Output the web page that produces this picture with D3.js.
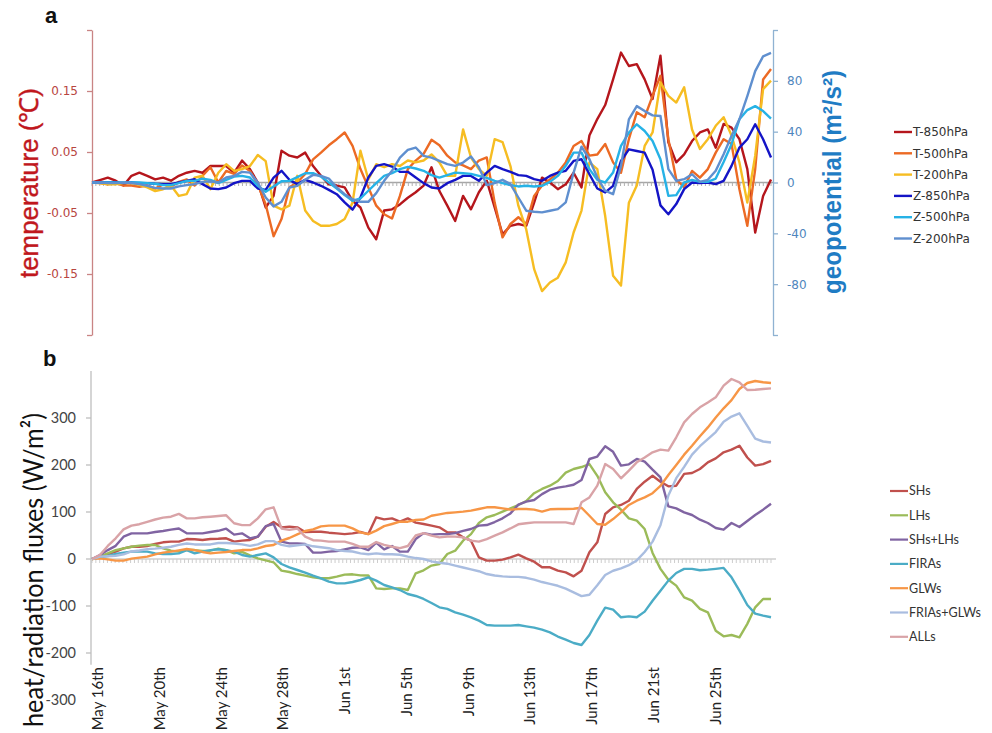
<!DOCTYPE html>
<html>
<head>
<meta charset="utf-8">
<script src="https://cdn.jsdelivr.net/npm/d3@7"></script>
<style>
  html, body { margin: 0; padding: 0; background: #fff; }
  svg { display: block; }
</style>
</head>
<body>
<svg id="chart" width="992" height="733"></svg>
<script>
// ---------------- data ----------------
// Samples are evenly spaced over the period May 16th 00:00 – Jun 29th 00:00.
const periodDays = 44;

const dateLabels = ["May 16th", "May 20th", "May 24th", "May 28th", "Jun 1st", "Jun 5th",
                    "Jun 9th", "Jun 13th", "Jun 17th", "Jun 21st", "Jun 25th"];
const dateLabelDays = [0, 4, 8, 12, 16, 20, 24, 28, 32, 36, 40];

const tempTicks = [-0.25, -0.15, -0.05, 0.05, 0.15, 0.25];
const geoTicks = [-120, -80, -40, 0, 40, 80, 120];
const fluxTicks = [-300, -200, -100, 0, 100, 200, 300];

// panel a: temperature anomalies (°C)
const t850 = [0,0.004,0.008,0.003,-0.005,0.011,0.016,0.011,0.005,0.008,
  0.003,0.011,0.016,0.019,0.016,0.027,0.027,0.027,0.016,0.036,
  0.022,0,-0.041,-0.022,0.052,0.044,0.041,0.049,0.027,0.011,
  -0.003,-0.005,-0.008,-0.030,-0.041,-0.074,-0.093,-0.046,-0.044,-0.036,
  -0.025,-0.016,-0.005,0.025,-0.014,-0.038,-0.063,-0.022,-0.044,-0.016,
  0.003,-0.041,-0.085,-0.071,-0.068,-0.071,-0.033,0.008,0,-0.011,
  -0.003,0.016,-0.008,0.077,0.104,0.127,0.169,0.213,0.191,0.194,
  0.169,0.137,0.208,0.066,0.033,0.046,0.068,0.082,0.087,0.057,
  0.096,0.090,0.071,0.022,-0.082,-0.022,0.005];
const t500 = [0,-0.001,-0.003,-0.001,-0.005,-0.005,-0.007,-0.005,-0.010,-0.003,
  -0.007,0.001,0.005,-0.005,0.011,0.025,0,0.019,0.014,0.028,
  0.019,-0.003,-0.036,-0.088,-0.060,-0.008,0,0.014,0.038,0.049,
  0.061,0.071,0.082,0.060,0.022,-0.008,-0.038,-0.052,-0.059,-0.022,
  0.022,0.036,0.047,0.070,0.061,0.044,0.033,0.028,0.022,0.036,
  0.041,-0.033,-0.090,-0.068,-0.057,-0.068,-0.022,-0.005,0.005,0.016,
  0.033,0.060,0.068,0.044,0.046,0.063,0.033,0.016,0.071,0.115,
  0.107,0.142,0.175,0.071,0.005,-0.008,0.019,0.008,0.022,0.049,
  0.071,0.063,-0.011,-0.071,0.022,0.169,0.186];
const t200 = [0,-0.001,-0.003,-0.003,-0.001,-0.001,-0.004,-0.008,-0.014,-0.011,
  -0.005,-0.022,-0.019,0.008,0.011,-0.011,0.016,0.030,0.019,0.022,
  0.027,0.045,0.035,-0.038,-0.044,-0.038,0.011,-0.046,-0.063,-0.071,
  -0.071,-0.068,-0.060,-0.033,0.052,0.005,0.030,0.025,0.030,0.027,
  0.036,0.033,0.036,0.046,0.033,0.011,0.011,0.087,0.041,0.022,
  0.011,0.071,0.066,0.027,-0.038,-0.077,-0.142,-0.178,-0.164,-0.156,
  -0.131,-0.082,-0.046,0.033,0.022,-0.055,-0.153,-0.169,-0.033,-0.005,
  0.060,0.082,0.164,0.142,0.131,0.156,0.087,0.055,0.071,0.093,
  0.107,0.077,0.033,-0.033,0.044,0.153,0.167];

// panel a: geopotential anomalies (m²/s²)
const z850 = [0,0,0,0,-0.5,0,-0.5,-0.5,-1,-1.3,
  -1.3,0,1.3,2.6,-1.3,-4.7,-5.2,-3.9,-0.5,1.3,
  1.3,-4.7,-5.8,3.9,9.2,2.1,-1.3,2.1,0,-2.6,
  -5.8,-9.2,-15.7,-21.4,-11.8,3.9,13.1,14.4,12.5,8.4,
  8.4,3.9,-0.5,-3.9,-4.7,-0.5,2.1,5.2,5.2,1.3,
  7.8,13.1,10.5,8.4,5.8,5.2,2.6,1.3,5.2,7.8,
  9.2,17,18.3,6.5,-4.7,-7.8,-2.6,17,26.1,24.8,
  23.5,10,-18,-25,-17,-5.2,0,-0.5,0,-1.3,
  1.3,13.1,27.5,34,45.8,34,19.6];
const z500 = [0,0,0,0,0,0,0,-0.5,-1,-2.1,
  -2.1,-0.5,1.3,1.3,3.1,2.1,-0.5,2.1,4.7,5.2,
  3.9,-2.6,-7.3,-3.1,1,1.3,4.2,7.3,7.3,4.7,
  0,-4.7,-9.9,-14.4,-12.5,-6.5,-0.5,5.2,7.3,10.5,
  12.3,11,9.2,5.8,3.9,5.8,7.8,7.3,6.8,5.2,
  3.7,1.3,-0.5,-2.1,-3.1,-2.6,-3.1,-2.6,0.5,5.2,
  13.1,23.5,23.5,10.5,2.1,0,7.8,28.8,39.2,45.8,
  40.5,32.7,18.3,-10.5,-9.9,0,2.1,0.5,0.5,3.1,
  16.2,30.1,49.7,57,60.1,56.2,50.2];
const z200 = [0,0,-0.5,-0.5,0,-0.5,-1.3,-2.6,-4.2,-4.7,
  -4.7,-3.1,-2.1,-1.3,0.5,1,0,3.9,5.2,8.4,
  7.8,0,-11.8,-18.8,-15.2,-3.9,-2.6,2.1,6,5.2,
  3.1,-3.9,-9.2,-13.1,-15.2,-15.2,-8.4,1.3,9.2,19.6,
  25.6,27.5,20.9,19.6,17,14.4,13.1,15.7,20.4,12,
  -2,-0.5,2.1,-1.3,-11.8,-22.2,-23,-23.5,-22.2,-20.9,
  -15.7,7.8,28.2,18.3,3.9,-6.5,-9.2,13.1,49.7,60.1,
  56.2,52.8,52.3,10.5,1.3,2.6,6.5,0.5,2.1,9.2,
  22.2,36.6,49.7,68,87.6,99.3,102];

// panel b: accumulated heat / radiation fluxes (W/m²)
const shs = [0,5,10,15.6,22.7,26,26,27.7,32,35.5,
  37,37,42.5,42,40.4,42.5,43,44,37,39,
  40.4,47.5,68.8,78.7,67.4,68.8,67.4,57.4,58,58,
  56,54.6,53,54.6,57.4,53,88.7,84.4,86.5,79.4,
  86.5,77.3,74.5,71,67.4,56.7,56.7,46,39,3.5,
  -3.5,-3.5,-1.4,3.5,9.2,1.4,-5.7,-17.7,-17.7,-24.8,
  -28.4,-36.9,-25,14.2,35.5,95.7,110,115,124,149,
  164.5,177,164.5,154.6,156,181,183,191.5,205.7,214,
  227,232.6,241,216,198.6,202,209];
const lhs = [0,5,12,19,22.7,26,28.4,29.8,29.8,22.7,
  17.7,15.6,19,19,17,17.7,22,19,12,15,
  7.8,1.4,-2.8,-7,-24.8,-27.7,-32,-35.5,-39,-41,
  -41,-37.6,-33.3,-32.6,-34.8,-35,-62.4,-63.8,-62.4,-62.4,
  -66,-30.5,-24,-14,-10.6,10.6,17.7,39,53,76.6,
  88.7,93.6,100.7,107.8,114.9,123.4,140,149,156,166,
  183.7,191.5,195.7,202,177,141.8,120.6,105,86.5,81.6,
  63.8,12.8,-21,-44,-56.7,-81.6,-88.7,-106,-113.5,-152.5,
  -164.5,-161.7,-166.7,-138,-102.8,-85,-85];
const shsLhs = [0,8.5,19,28,47.5,54.6,54.6,54.6,57.4,59.6,
  62.4,65,54.6,54.6,54.6,57.4,60,64.5,51.8,54.6,
  44,47.5,70,74.5,36.9,33.3,33.3,32,13.5,13.5,
  15.6,17,20.6,24,24.8,19,34.8,20.6,27.7,15.6,
  15.6,42.5,55,51.8,53,53,55,60,63.8,71,
  72.3,78.7,86.5,97,115.6,122,125.5,138,147.5,151.8,
  154.6,158,168,212.8,218,239.7,228,198.6,201.4,212.8,
  207,190,173.8,112,107.8,99.3,93.6,83.7,76.6,66,
  62.4,76.6,68,80.9,93.6,105,117.7];
const firas = [0,3.5,6.4,10.6,13.5,15.6,15.6,15.6,12,10.6,
  10.6,12,19,12,15.6,19,20.6,19,15.6,8.5,
  5,8.5,12,3.5,-10.6,-17.7,-23.4,-29,-35.5,-41,
  -48,-51.8,-51.8,-49,-44.7,-39,-46,-55.3,-60.3,-66,
  -74.5,-78.7,-85,-93.6,-102.8,-106,-113.5,-118.4,-124,-131.2,
  -140.4,-141.8,-141.8,-141.8,-140.4,-143.3,-146,-150.4,-156,-165,
  -171.6,-178.7,-183,-161.7,-131.2,-103.5,-107.8,-124,-122,-124,
  -112,-88.7,-67.4,-46,-29.8,-21,-21,-24,-22.7,-21,
  -19,-39,-67.4,-97.9,-116.3,-120.6,-124];
const glws = [0,1.4,-0.7,-3.5,-3.5,0.7,2.8,5,10,13.5,
  15.6,18.4,21.3,19,15,12,13.5,15,17,19,
  19,22.7,27.7,29.8,39,44.7,52.5,59.6,63,69.5,
  71,71,71,65,56.7,53,60.3,70,74.5,79.4,
  79.4,83,84,92,95,98,99.3,100.7,103,106.4,
  110,110,107.8,105,106.4,106.4,105,100.7,105.7,106.4,
  106.4,107,109,92,74.5,73,85,99.3,115,124,
  131,140,155.6,178.7,200,222,241,261,280,301,
  320.6,338,361.7,374.5,378.7,376,374.5];
const friasGlws = [0,5,6,7,10,16,18,21,22,24,
  26,30,33,31,31,31,34,34,33,31,
  28,31,38,38,30,27,29,31,27,25,
  23,19,17,16,12,10,12,10,10,9,
  5,2,0,-5,-8,-10,-14,-18,-22,-26,
  -32,-35,-37,-38,-38,-40,-44,-49,-53,-57,
  -63,-71,-79,-76,-56,-34,-25,-20,-13,-3,
  15,37,72,135,172,196,222,240,255,270,
  292,303,310,283,256,250,248];
const alls = [0,8.5,27.7,44,63,71,74,79,84,88,
  90,96,86.5,86.5,88.7,90,91.5,93,76,72,
  72,86.5,105.7,110,65,62,65,47.5,40,39,
  37,37,37,32,26,26,36,30,26,23,
  27.7,50,55,49.6,46,48,47.5,46,39,37,
  42.5,49.6,56.7,65,73.8,76,78,78,78,78,
  78,74.5,120.6,131,156,202,191.5,171.6,188,205.7,
  216,227,232.6,230.5,259,290.8,308.5,322.7,333,344,
  368.8,383,376,359.6,360,361.7,363];

const tempNames = ["T-850hPa", "T-500hPa", "T-200hPa"];
const geoNames = ["Z-850hPa", "Z-500hPa", "Z-200hPa"];
const fluxNames = ["SHs", "LHs", "SHs+LHs", "FIRAs", "GLWs", "FRIAs+GLWs", "ALLs"];

// ---------------- styles ----------------
const tempColors = ["#b5161c", "#ec6a24", "#f6bd22"];
const geoColors = ["#1414c6", "#26b2e6", "#5f8fcf"];
const fluxColors = ["#c0504d", "#9bbb59", "#8064a2", "#4bacc6", "#f79646", "#a9bde0", "#d9a3a7"];

const svg = d3.select("#chart");
const fontA = "'DejaVu Sans', Verdana, sans-serif";
const fontB = "Lato, 'Open Sans', sans-serif";

const nSamples = t850.length;
const xIdx = d3.scaleLinear().domain([0, nSamples - 1]).range([92, 771]);
const xDay = d3.scaleLinear().domain([0, periodDays]).range([92, 771]);

// ================= panel a =================
const yT = d3.scaleLinear().domain([-0.25, 0.25]).range([335, 30]);
const yZ = d3.scaleLinear().domain([-120, 120]).range([335, 30]);
const fmtHyphen = f => d => f(d).replace("\u2212", "-");

// zero line with a minor tick per quarter day
const gA = svg.append("g");
gA.append("line")
  .attr("x1", 92).attr("x2", 773)
  .attr("y1", yT(0)).attr("y2", yT(0))
  .attr("stroke", "#a6a6a6").attr("stroke-width", 1.5);
gA.append("g").selectAll("line")
  .data(d3.range(0, periodDays * 4 + 1))
  .join("line")
  .attr("x1", d => xDay(d / 4)).attr("x2", d => xDay(d / 4))
  .attr("y1", yT(0)).attr("y2", yT(0) + 3.5)
  .attr("stroke", "#b0b0b0").attr("stroke-width", 1);

// left axis (temperature)
const axT = gA.append("g").attr("transform", "translate(92,0)")
  .call(d3.axisLeft(yT).tickValues(tempTicks).tickSize(5).tickSizeOuter(0).tickPadding(9)
    .tickFormat(d => Math.abs(d) > 0.2 ? "" : fmtHyphen(d3.format(".2f"))(d)));
axT.select(".domain").attr("stroke", "#c98484").attr("stroke-width", 1.3);
axT.selectAll(".tick line").attr("stroke", "#c98484").attr("stroke-width", 1.3);
axT.selectAll("text").attr("fill", "#b8453f").attr("font-family", fontA).attr("font-size", 12);

// right axis (geopotential)
const axZ = gA.append("g").attr("transform", "translate(773,0)")
  .call(d3.axisRight(yZ).tickValues(geoTicks).tickSize(5).tickSizeOuter(0).tickPadding(9)
    .tickFormat(d => Math.abs(d) > 100 ? "" : fmtHyphen(d3.format("d"))(d)));
axZ.select(".domain").attr("stroke", "#8fb2d2").attr("stroke-width", 1.3);
axZ.selectAll(".tick line").attr("stroke", "#8fb2d2").attr("stroke-width", 1.3);
axZ.selectAll("text").attr("fill", "#4f86bd").attr("font-family", fontA).attr("font-size", 12);

const lineT = d3.line().x((d, i) => xIdx(i)).y(d => yT(d));
const lineZ = d3.line().x((d, i) => xIdx(i)).y(d => yZ(d));

[t850, t500, t200].forEach((s, k) => {
  gA.append("path").datum(s).attr("d", lineT)
    .attr("fill", "none").attr("stroke", tempColors[k])
    .attr("stroke-width", 2.4).attr("stroke-linejoin", "round");
});
[z850, z500, z200].forEach((s, k) => {
  gA.append("path").datum(s).attr("d", lineZ)
    .attr("fill", "none").attr("stroke", geoColors[k])
    .attr("stroke-width", 2.4).attr("stroke-linejoin", "round");
});

// axis titles
gA.append("text")
  .attr("transform", "translate(38,183) rotate(-90)")
  .attr("text-anchor", "middle")
  .attr("font-family", "'Liberation Sans', Arial, sans-serif")
  .attr("font-size", 26).attr("fill", "#c0171d")
  .attr("stroke", "#c0171d").attr("stroke-width", 0.4)
  .attr("textLength", 190).attr("lengthAdjust", "spacingAndGlyphs")
  .text("temperature (\u2103)");
gA.append("text")
  .attr("transform", "translate(841,182) rotate(-90)")
  .attr("text-anchor", "middle")
  .attr("font-family", "'Liberation Sans', Arial, sans-serif")
  .attr("font-size", 26).attr("font-weight", "bold").attr("fill", "#1f7cc4")
  .attr("textLength", 224).attr("lengthAdjust", "spacingAndGlyphs")
  .text("geopotential (m\u00b2/s\u00b2)");

// panel letter
svg.append("text").attr("x", 45).attr("y", 23)
  .attr("font-family", "'Liberation Sans', Arial, sans-serif")
  .attr("font-size", 22).attr("font-weight", "bold").attr("fill", "#111")
  .text("a");

// legend a
const legA = svg.append("g");
const legAItems = tempNames.map((n, i) => ({ name: n, color: tempColors[i] }))
  .concat(geoNames.map((n, i) => ({ name: n, color: geoColors[i] })));
legAItems.forEach((d, i) => {
  const y = 132 + i * 21.3;
  legA.append("line").attr("x1", 894).attr("x2", 912).attr("y1", y).attr("y2", y)
    .attr("stroke", d.color).attr("stroke-width", 2.4);
  legA.append("text").attr("x", 913).attr("y", y).attr("dy", "0.35em")
    .attr("font-family", fontA).attr("font-size", 12).attr("fill", "#333")
    .text(d.name);
});

// ================= panel b =================
const yF = d3.scaleLinear().domain([-300, 400]).range([700, 371]);
const gB = svg.append("g");

// zero line with a minor tick per quarter day
gB.append("line")
  .attr("x1", 92).attr("x2", 776)
  .attr("y1", yF(0)).attr("y2", yF(0))
  .attr("stroke", "#cfcfcf").attr("stroke-width", 1.5);
gB.append("g").selectAll("line")
  .data(d3.range(0, periodDays * 4 + 1))
  .join("line")
  .attr("x1", d => xDay(d / 4)).attr("x2", d => xDay(d / 4))
  .attr("y1", yF(0)).attr("y2", yF(0) + 4)
  .attr("stroke", "#cdcdcd").attr("stroke-width", 1);

// left axis
gB.append("line").attr("x1", 91).attr("x2", 91)
  .attr("y1", yF(400)).attr("y2", yF(-225))
  .attr("stroke", "#bfbfbf").attr("stroke-width", 1.3);
gB.append("g").selectAll("line")
  .data(fluxTicks.filter(d => d > -300))
  .join("line")
  .attr("x1", 86).attr("x2", 91)
  .attr("y1", d => yF(d)).attr("y2", d => yF(d))
  .attr("stroke", "#bfbfbf").attr("stroke-width", 1.3);
gB.append("g").selectAll("text")
  .data(fluxTicks)
  .join("text")
  .attr("x", 76).attr("y", d => yF(d)).attr("dy", "0.35em")
  .attr("text-anchor", "end")
  .attr("font-family", fontB).attr("font-size", 14.5).attr("fill", "#444")
  .text(d => d3.format("d")(d).replace("\u2212", "-"));

// date labels
gB.append("g").selectAll("text")
  .data(dateLabelDays)
  .join("text")
  .attr("transform", d => `translate(${xDay(d) + 6},667) rotate(-90)`)
  .attr("text-anchor", "end").attr("dy", "0.35em")
  .attr("font-family", fontB).attr("font-size", 15).attr("fill", "#222")
  .text((d, i) => dateLabels[i]);

const lineF = d3.line().x((d, i) => xIdx(i)).y(d => yF(d));
[shs, lhs, shsLhs, firas, glws, friasGlws, alls].forEach((s, k) => {
  gB.append("path").datum(s).attr("d", lineF)
    .attr("fill", "none").attr("stroke", fluxColors[k])
    .attr("stroke-width", 2.4).attr("stroke-linejoin", "round");
});

// axis title
gB.append("text")
  .attr("transform", "translate(43,570) rotate(-90)")
  .attr("text-anchor", "middle")
  .attr("font-family", fontB)
  .attr("font-size", 27).attr("fill", "#111")
  .attr("textLength", 314).attr("lengthAdjust", "spacingAndGlyphs")
  .text("heat/radiation fluxes (W/m\u00b2)");

svg.append("text").attr("x", 43).attr("y", 366)
  .attr("font-family", "'Liberation Sans', Arial, sans-serif")
  .attr("font-size", 22).attr("font-weight", "bold").attr("fill", "#111")
  .text("b");

// legend b
const legB = svg.append("g");
fluxNames.forEach((n, i) => {
  const y = 491 + i * 24.3;
  legB.append("line").attr("x1", 890).attr("x2", 908).attr("y1", y).attr("y2", y)
    .attr("stroke", fluxColors[i]).attr("stroke-width", 2.2);
  legB.append("text").attr("x", 909).attr("y", y).attr("dy", "0.35em")
    .attr("font-family", fontB).attr("font-size", 12.5).attr("fill", "#333")
    .text(n);
});
</script>
</body>
</html>
